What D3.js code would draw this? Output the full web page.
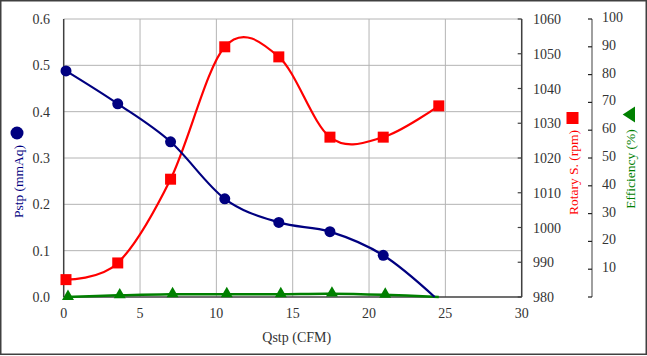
<!DOCTYPE html>
<html><head><meta charset="utf-8">
<script src="https://cdn.jsdelivr.net/npm/d3@7"></script>
<style>body{margin:0;background:#fff}svg{display:block}</style>
</head><body><svg id="c" width="647" height="356"></svg>
<script>
const qstp = [0.15, 3.54, 7.0, 10.55, 14.09, 17.44, 20.93, 24.57];
const pstpX = [0.15, 3.54, 7.0, 10.55, 14.09, 17.44, 20.93, 24.3];
const pstp = [0.488, 0.417, 0.335, 0.212, 0.161, 0.141, 0.090, 0.0];
const rotary = [985.0, 989.8, 1013.9, 1052.0, 1049.1, 1026.0, 1026.0, 1035.0];
const efficiency = [0.0, 0.6, 1.0, 1.0, 1.0, 1.2, 0.8, 0.0];
const xTicks = [0, 5, 10, 15, 20, 25, 30];
const pTicks = [0, 0.1, 0.2, 0.3, 0.4, 0.5, 0.6];
const rTicks = [980, 990, 1000, 1010, 1020, 1030, 1040, 1050, 1060];
const eTicks = [10, 20, 30, 40, 50, 60, 70, 80, 90, 100];

const FONT = "Liberation Serif, DejaVu Serif, serif";
const svg = d3.select("#c").attr("font-family", FONT);
const L = 63.7, R = 521.7, T = 19, B = 297;
const x = d3.scaleLinear().domain([0, 30]).range([L, R]);
const yP = d3.scaleLinear().domain([0, 0.6]).range([B, T]);
const yR = d3.scaleLinear().domain([980, 1060]).range([B, T]);
const yE = d3.scaleLinear().domain([0, 100]).range([B, T]);

svg.append("rect").attr("x", 0.75).attr("y", 0.75).attr("width", 645.5).attr("height", 353.5)
  .attr("fill", "#fff").attr("stroke", "#404040").attr("stroke-width", 1.5);

// grid
const g = svg.append("g");
g.selectAll(".gx").data(xTicks.slice(1)).join("line")
  .attr("x1", d => x(d)).attr("x2", d => x(d)).attr("y1", T).attr("y2", B)
  .attr("stroke", "#b4b4b4").attr("stroke-width", 1);
g.selectAll(".gy").data(pTicks.slice(1)).join("line")
  .attr("x1", L).attr("x2", R).attr("y1", d => yP(d)).attr("y2", d => yP(d))
  .attr("stroke", "#b4b4b4").attr("stroke-width", 1);

// axes lines
const axC = "#404040";
svg.append("line").attr("x1", L).attr("x2", L).attr("y1", T).attr("y2", B).attr("stroke", axC).attr("stroke-width", 1.5);
svg.append("line").attr("x1", R).attr("x2", R).attr("y1", T).attr("y2", B).attr("stroke", axC).attr("stroke-width", 1.5);
svg.append("line").attr("x1", L).attr("x2", R).attr("y1", B).attr("y2", B).attr("stroke", axC).attr("stroke-width", 1.5);
svg.selectAll(".rt").data(rTicks).join("line")
  .attr("x1", R - 4).attr("x2", R).attr("y1", d => yR(d)).attr("y2", d => yR(d))
  .attr("stroke", axC).attr("stroke-width", 1.2);
const EX = 592;
svg.append("line").attr("x1", EX).attr("x2", EX).attr("y1", yE(100)).attr("y2", B).attr("stroke", "#606060").attr("stroke-width", 1.2);
svg.selectAll(".et").data([0].concat(eTicks)).join("line")
  .attr("x1", EX - 4).attr("x2", EX).attr("y1", d => yE(d)).attr("y2", d => yE(d))
  .attr("stroke", "#202020").attr("stroke-width", 1.2);

const fs = 14, tc = "#333";
svg.selectAll(".xl").data(xTicks).join("text")
  .attr("x", d => x(d)).attr("y", 318).attr("text-anchor", "middle")
  .attr("font-size", fs).attr("fill", tc).text(d => d);
svg.selectAll(".pl").data(pTicks).join("text")
  .attr("x", 50).attr("y", d => yP(d) + 5).attr("text-anchor", "end")
  .attr("font-size", fs).attr("fill", tc).text(d => d.toFixed(1));
svg.selectAll(".rl").data(rTicks).join("text")
  .attr("x", 533).attr("y", d => yR(d) + 5).attr("text-anchor", "start")
  .attr("font-size", fs).attr("fill", tc).text(d => d);
svg.selectAll(".el").data(eTicks).join("text")
  .attr("x", 602).attr("y", d => yE(d) + 3).attr("text-anchor", "start")
  .attr("font-size", fs).attr("fill", tc).text(d => d);

const lfs = 13.5;
svg.append("text").attr("x", 296.7).attr("y", 342).attr("text-anchor", "middle")
  .attr("font-size", fs).attr("fill", tc).text("Qstp (CFM)");
svg.append("text").attr("transform", "translate(22.5,181.5) rotate(-90)").attr("text-anchor", "middle")
  .attr("font-size", lfs).attr("fill", "#000080").text("Pstp (mmAq)");
svg.append("circle").attr("cx", 17).attr("cy", 133).attr("r", 6.5).attr("fill", "#000080");
svg.append("text").attr("transform", "translate(578,172.5) rotate(-90)").attr("text-anchor", "middle")
  .attr("font-size", lfs).attr("fill", "#ff0000").text("Rotary S. (rpm)");
svg.append("rect").attr("x", 566.5).attr("y", 112).attr("width", 12).attr("height", 12).attr("fill", "#ff0000");
svg.append("text").attr("transform", "translate(634.5,169) rotate(-90)").attr("text-anchor", "middle")
  .attr("font-size", lfs).attr("fill", "#008000").text("Efficiency (%)");
svg.append("path").attr("d", "M622.7,114.5 L635,106.5 L635,122.5 Z").attr("fill", "#008000");

// series
const curve = d3.curveCardinal.tension(0);
const eLine = d3.line().x((d, i) => x(qstp[i])).y(d => yE(d)).curve(curve);
svg.append("path").attr("d", eLine(efficiency)).attr("fill", "none").attr("stroke", "#008000").attr("stroke-width", 2.5);
const rLine = d3.line().x((d, i) => x(qstp[i])).y(d => yR(d)).curve(curve);
svg.append("path").attr("d", rLine(rotary)).attr("fill", "none").attr("stroke", "#ff0000").attr("stroke-width", 2.2);
const pLine = d3.line().x((d, i) => x(pstpX[i])).y(d => yP(d)).curve(curve);
svg.append("path").attr("d", pLine(pstp)).attr("fill", "none").attr("stroke", "#000080").attr("stroke-width", 2.2);

// markers
const nM = 7;
svg.selectAll(".em").data(efficiency.slice(0, nM)).join("path")
  .attr("d", d3.symbol().type(d3.symbolTriangle).size(62))
  .attr("transform", (d, i) => `translate(${x(qstp[i]) + 2},${yE(d) - 0.5})`).attr("fill", "#008000");
svg.selectAll(".rm").data(rotary).join("rect")
  .attr("x", (d, i) => x(qstp[i]) - 5.5).attr("y", d => yR(d) - 5.5)
  .attr("width", 11).attr("height", 11).attr("fill", "#ff0000");
svg.selectAll(".pm").data(pstp.slice(0, nM)).join("circle")
  .attr("cx", (d, i) => x(pstpX[i])).attr("cy", d => yP(d)).attr("r", 5.5).attr("fill", "#000080");
</script></body></html>
